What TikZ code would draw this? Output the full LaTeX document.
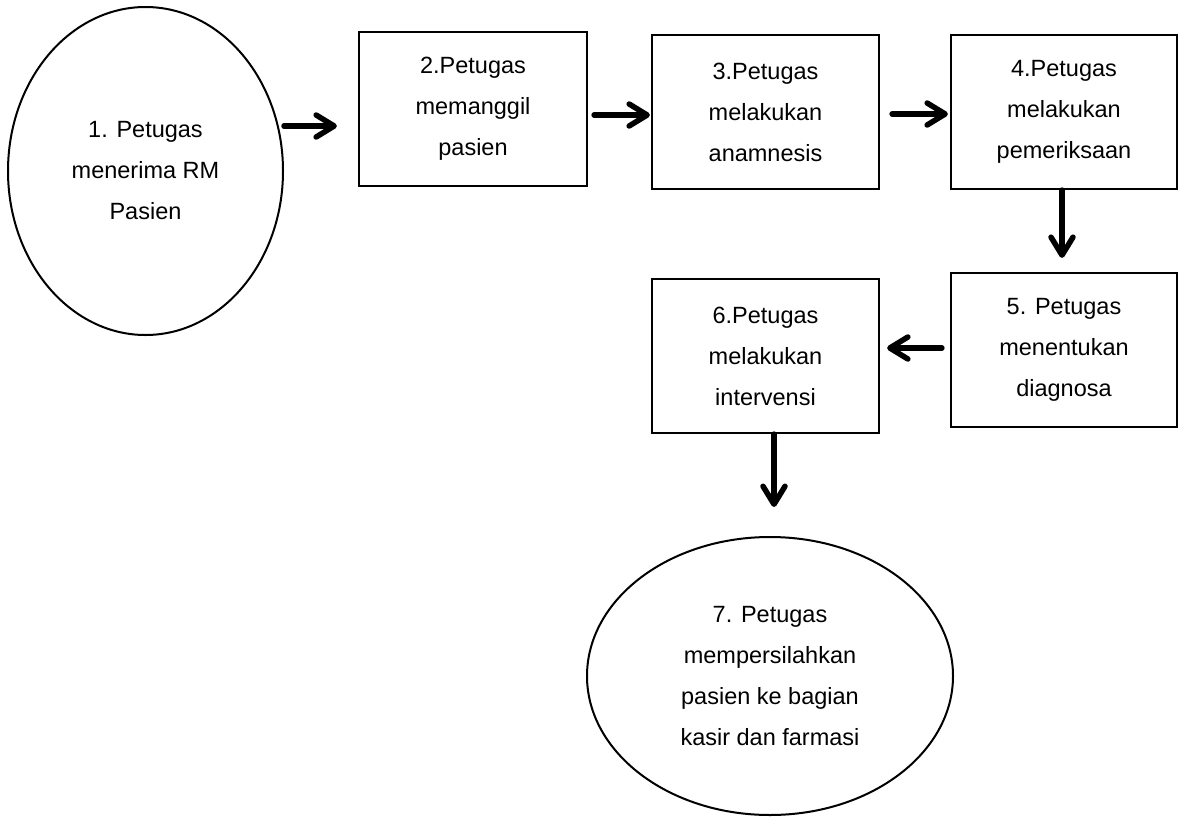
\documentclass[tikz,border=0pt]{standalone}
\usepackage{fontspec}
\setmainfont{Liberation Sans}
\usetikzlibrary{shapes.geometric,arrows.meta}
\begin{document}
\begin{tikzpicture}[x=1pt,y=-1pt,
  txt/.style={font=\fontsize{23.5}{41}\selectfont, align=center, inner sep=0pt},
  stepbox/.style={txt, draw, rectangle, line width=2.2pt, minimum width=227pt, minimum height=154pt},
  oval/.style={txt, draw, ellipse, line width=2pt},
  arr/.style={line width=5.5pt, line cap=round, -{Straight Barb[length=18pt,width=22pt,round]}}]
\useasboundingbox (0,0) rectangle (1178,817);

\node[oval, minimum width=275pt, minimum height=328pt] (e1) at (145.5,171) {1. Petugas\\menerima RM\\Pasien};
\node[stepbox, minimum width=228pt] (b2) at (473,109) {2.Petugas\\memanggil\\pasien};
\node[stepbox] (b3) at (765.5,112) {3.Petugas\\melakukan\\anamnesis};
\node[stepbox, minimum width=226pt] (b4) at (1064,112) {4.Petugas\\melakukan\\pemeriksaan};
\node[stepbox, minimum width=226pt] (b5) at (1064,350) {5. Petugas\\menentukan\\diagnosa};
\node[stepbox] (b6) at (765.5,356) {6.Petugas\\melakukan\\intervensi};
\node[oval, minimum width=366pt, minimum height=278pt] (e7) at (770,676) {7. Petugas\\mempersilahkan\\pasien ke bagian\\kasir dan farmasi};

\coordinate (y12) at (0,126);
\coordinate (y23) at (0,115);
\coordinate (y34) at (0,114);
\coordinate (x45) at (1062,0);
\coordinate (y56) at (0,348);
\coordinate (x67) at (774,0);

\draw[arr, shorten >=21pt] (e1.east |- y12) -- (b2.west |- y12);
\draw[arr, shorten <=6pt, shorten >=1pt] (b2.east |- y23) -- (b3.west |- y23);
\draw[arr, shorten <=12pt, shorten >=2pt] (b3.east |- y34) -- (b4.west |- y34);
\draw[arr, shorten >=14pt] (b4.south -| x45) -- (b5.north -| x45);
\draw[arr, shorten <=8pt, shorten >=7pt] (b5.west |- y56) -- (b6.east |- y56);
\draw[arr, shorten >=29pt] (b6.south -| x67) -- (e7.north -| x67);
\end{tikzpicture}
\end{document}
